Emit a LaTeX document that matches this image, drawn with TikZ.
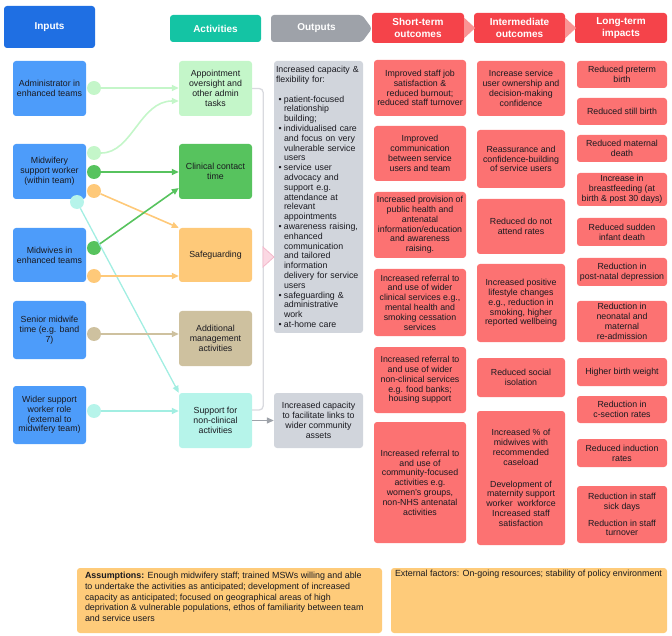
\documentclass[tikz,border=0pt]{standalone}
\usepackage{fontspec}
\setmainfont{Liberation Sans}
\usepackage{tikz}
\usetikzlibrary{arrows.meta,calc}
\usepackage{xcolor}
\definecolor{inhead}{HTML}{1F6FE3}
\definecolor{inbox}{HTML}{4D9CFA}
\definecolor{acthead}{HTML}{14C4A4}
\definecolor{outhead}{HTML}{9EA2A9}
\definecolor{outbox}{HTML}{D1D5DC}
\definecolor{redhead}{HTML}{F5434A}
\definecolor{redbox}{HTML}{FC7272}
\definecolor{redtip}{HTML}{FA9494}
\definecolor{admincol}{HTML}{C4F6C9}
\definecolor{clincol}{HTML}{57C35E}
\definecolor{safecol}{HTML}{FEC979}
\definecolor{mgmtcol}{HTML}{CEC19F}
\definecolor{supcol}{HTML}{B6F4EA}
\definecolor{supline}{HTML}{A2EEE2}
\definecolor{assumecol}{HTML}{FECB7A}
\definecolor{textcol}{HTML}{1A1A20}
\definecolor{bracecol}{HTML}{D9DADF}
\definecolor{pinkfill}{HTML}{FBD8E3}
\definecolor{pinkdraw}{HTML}{F3B8CB}

\newcommand{\bitem}[1]{\makebox[8pt][l]{\hspace{2.5pt}\textbullet}#1}
\newcommand{\bcont}[1]{\hspace*{8pt}#1}

\begin{document}
\begin{tikzpicture}[x=1pt, y=-1pt, >={Triangle[length=7pt,width=6pt]},
    box/.style={rounded corners=3pt, align=center, inner sep=1pt, text=textcol, font=\fontsize{8.8}{9.8}\selectfont},
    head/.style={rounded corners=3pt, align=center, inner sep=1pt, text=white, font=\fontsize{10}{12}\selectfont\bfseries, minimum height=27pt},
    inbx/.style={box, fill=inbox, minimum width=73pt},
    actbx/.style={box, minimum width=73pt},
    outbx/.style={box, fill=outbox, minimum width=89pt},
    stbx/.style={box, fill=redbox, minimum width=92pt},
    imbx/.style={box, fill=redbox, minimum width=88pt},
    ltbx/.style={box, fill=redbox, minimum width=90pt},
    dot/.style={circle, inner sep=0pt, minimum size=14pt},
    link/.style={->, line width=1.6pt},
    botbox/.style={rounded corners=3pt, fill=assumecol, minimum height=65pt},
    bottext/.style={align=left, inner sep=0pt, text=textcol, font=\fontsize{8.9}{10.8}\selectfont}]
    \useasboundingbox (0,0) rectangle (672,636);

    % headers
    \node[head, fill=inhead, minimum width=91pt, minimum height=42pt] (hIn) at (49.5,27) {Inputs};
    \node[head, fill=acthead, minimum width=91pt] (hAct) at (215.5,28.5) {Activities};
    \fill[outhead, rounded corners=3pt] (271,15) -- (362,15) -- (372,28.5) -- (362,42) -- (271,42) -- cycle;
    \node[head] (hOut) at (316.5,28.5) {Outputs};
    \node[head, fill=redhead, minimum width=92pt, minimum height=30pt] (hShort) at (418,28) {Short-term\\outcomes};
    \node[head, fill=redhead, minimum width=91pt, minimum height=30pt] (hInt) at (519.5,28) {Intermediate\\outcomes};
    \node[head, fill=redhead, minimum width=92pt, minimum height=30pt] (hLong) at (621,28) {Long-term\\impacts};
    \fill[redtip] ([yshift=-5pt]hShort.north east) -- ([xshift=11pt]hShort.east) -- ([yshift=5pt]hShort.south east) -- cycle;
    \fill[redtip] ([yshift=-5pt]hInt.north east) -- ([xshift=11pt]hInt.east) -- ([yshift=5pt]hInt.south east) -- cycle;

    % inputs
    \node[inbx, minimum height=55pt] (in1) at (49.5,88.5) {Administrator in\\enhanced teams};
    \node[inbx, minimum height=55pt] (in2) at (49.5,171.5) {Midwifery\\support worker\\(within team)};
    \node[inbx, minimum height=54pt] (in3) at (49.5,255) {Midwives in\\enhanced teams};
    \node[inbx, minimum height=58pt] (in4) at (49.5,330) {Senior midwife\\time (e.g. band\\7)};
    \node[inbx, minimum height=58pt] (in5) at (49.5,415) {Wider support\\worker role\\(external to\\midwifery team)};

    % activities
    \node[actbx, fill=admincol, minimum height=55pt] (act1) at (215.5,88.5) {Appointment\\oversight and\\other admin\\tasks};
    \node[actbx, fill=clincol, minimum height=55pt] (act2) at (215.5,171.5) {Clinical contact\\time};
    \node[actbx, fill=safecol, minimum height=54pt] (act3) at (215.5,255) {Safeguarding};
    \node[actbx, fill=mgmtcol, minimum height=55pt] (act4) at (215.5,338.5) {Additional\\management\\activities};
    \node[actbx, fill=supcol, minimum height=55pt] (act5) at (215.5,420.5) {Support for\\non-clinical\\activities};

    % outputs
    \node[outbx, minimum height=272pt, text width=85pt, align=left, inner xsep=2pt] (out1) at (318.5,197) {Increased capacity \&\\flexibility for:\\[9.8pt]
        \bitem{patient-focused}\\\bcont{relationship}\\\bcont{building;}\\
        \bitem{individualised care}\\\bcont{and focus on very}\\\bcont{vulnerable service}\\\bcont{users}\\
        \bitem{service user}\\\bcont{advocacy and}\\\bcont{support e.g.}\\\bcont{attendance at}\\\bcont{relevant}\\\bcont{appointments}\\
        \bitem{awareness raising,}\\\bcont{enhanced}\\\bcont{communication}\\\bcont{and tailored}\\\bcont{information}\\\bcont{delivery for service}\\\bcont{users}\\
        \bitem{safeguarding \&}\\\bcont{administrative}\\\bcont{work}\\
        \bitem{at-home care}};
    \node[outbx, minimum height=55pt] (out2) at (318.5,420.5) {Increased capacity\\to facilitate links to\\wider community\\assets};

    % short-term outcomes
    \node[stbx, minimum height=56pt] (st1) at (420,88) {Improved staff job\\satisfaction \&\\reduced burnout;\\reduced staff turnover};
    \node[stbx, minimum height=55pt] (st2) at (420,153.5) {Improved\\communication\\between service\\users and team};
    \node[stbx, minimum height=66pt] (st3) at (420,225) {Increased provision of\\public health and\\antenatal\\information/education\\and awareness\\raising.};
    \node[stbx, minimum height=67pt] (st4) at (420,302.5) {Increased referral to\\and use of wider\\clinical services e.g.,\\mental health and\\smoking cessation\\services};
    \node[stbx, minimum height=66pt] (st5) at (420,380) {Increased referral to\\and use of wider\\non-clinical services\\e.g. food banks;\\housing support};
    \node[stbx, minimum height=121pt] (st6) at (420,482.5) {Increased referral to\\and use of\\community-focused\\activities e.g.\\women's groups,\\non-NHS antenatal\\activities};

    % intermediate outcomes
    \node[imbx, minimum height=55pt] (im1) at (521,88.5) {Increase service\\user ownership and\\decision-making\\confidence};
    \node[imbx, minimum height=58pt] (im2) at (521,159) {Reassurance and\\confidence-building\\of service users};
    \node[imbx, minimum height=55pt] (im3) at (521,226.5) {Reduced do not\\attend rates};
    \node[imbx, minimum height=78pt] (im4) at (521,303) {Increased positive\\lifestyle changes\\e.g., reduction in\\smoking, higher\\reported wellbeing};
    \node[imbx, minimum height=39pt] (im5) at (521,377.5) {Reduced social\\isolation};
    \node[imbx, minimum height=134pt] (im6) at (521,478) {Increased \% of\\midwives with\\recommended\\caseload\\[12pt]Development of\\maternity support\\worker\ \ workforce\\Increased staff\\satisfaction};

    % long-term impacts
    \node[ltbx, minimum height=27pt] (lt1) at (622,74.5) {Reduced preterm\\birth};
    \node[ltbx, minimum height=27pt] (lt2) at (622,111.5) {Reduced still birth};
    \node[ltbx, minimum height=27pt] (lt3) at (622,148.5) {Reduced maternal\\death};
    \node[ltbx, minimum height=33pt] (lt4) at (622,189.5) {Increase in\\breastfeeding (at\\birth \& post 30 days)};
    \node[ltbx, minimum height=28pt] (lt5) at (622,232) {Reduced sudden\\infant death};
    \node[ltbx, minimum height=28pt] (lt6) at (622,272) {Reduction in\\post-natal depression};
    \node[ltbx, minimum height=41pt] (lt7) at (622,321.5) {Reduction in\\neonatal and\\maternal\\re-admission};
    \node[ltbx, minimum height=28pt] (lt8) at (622,372) {Higher birth weight};
    \node[ltbx, minimum height=27pt] (lt9) at (622,409.5) {Reduction in\\c-section rates};
    \node[ltbx, minimum height=28pt] (lt10) at (622,453) {Reduced induction\\rates};
    \node[ltbx, minimum height=57pt] (lt11) at (622,514.5) {Reduction in staff\\sick days\\[7pt]Reduction in staff\\turnover};

    % outputs bracket
    \draw[bracecol, line width=1.3pt, rounded corners=4pt] (act1.east) -- ++(11,0) |- ([yshift=10.5pt]act5.east);
    \filldraw[fill=pinkfill, draw=pinkdraw, line width=0.8pt] (263,247) -- (274,257) -- (263,267) -- cycle;
    \draw[link, outhead, line width=1.3pt] (act5) -- (out2);

    % input to activity links
    \node[dot, fill=admincol] (c1a) at (94,88) {};
    \node[dot, fill=admincol] (c2a) at (94,153) {};
    \node[dot, fill=clincol] (c2b) at (94,172) {};
    \node[dot, fill=safecol] (c2c) at (94,191) {};
    \node[dot, fill=clincol] (c3a) at (94,248) {};
    \node[dot, fill=safecol] (c3b) at (94,276) {};
    \node[dot, fill=mgmtcol] (c4) at (94,334) {};
    \node[dot, fill=supcol] (c5) at (94,411) {};
    \node[dot, fill=supcol] (c2d) at (77,202) {};

    \draw[link, admincol] (c1a) -- (c1a -| act1.west);
    \draw[link, admincol] (c2a) .. controls (132,153) and (140,101) .. ([yshift=-12.5pt]act1.west);
    \draw[link, clincol] (c2b) -- (c2b -| act2.west);
    \draw[link, safecol] (c2c) -- (act3.north west);
    \draw[link, supline, line width=1.3pt] (c2d) -- (act5.north west);
    \draw[link, clincol] (c3a) -- ([yshift=-16.5pt]act2.west);
    \draw[link, safecol] (c3b) -- (c3b -| act3.west);
    \draw[link, mgmtcol] (c4) -- (c4 -| act4.west);
    \draw[link, supline] (c5) -- (c5 -| act5.west);

    % assumptions and external factors
    \node[botbox, minimum width=305pt] (assume) at (229.5,600.5) {};
    \node[bottext, anchor=north west] (assumetxt) at ([shift={(8pt,-4pt)}]assume.north west) {\textbf{Assumptions:} Enough midwifery staff; trained MSWs willing and able\\to undertake the activities as anticipated; development of increased\\capacity as anticipated; focused on geographical areas of high\\deprivation \& vulnerable populations, ethos of familiarity between team\\and service users};
    \node[botbox, minimum width=276pt] (extern) at (529,600.5) {};
    \node[bottext, anchor=north west] (externtxt) at ([shift={(4pt,-2.5pt)}]extern.north west) {External factors: On-going resources; stability of policy environment};
\end{tikzpicture}
\end{document}
